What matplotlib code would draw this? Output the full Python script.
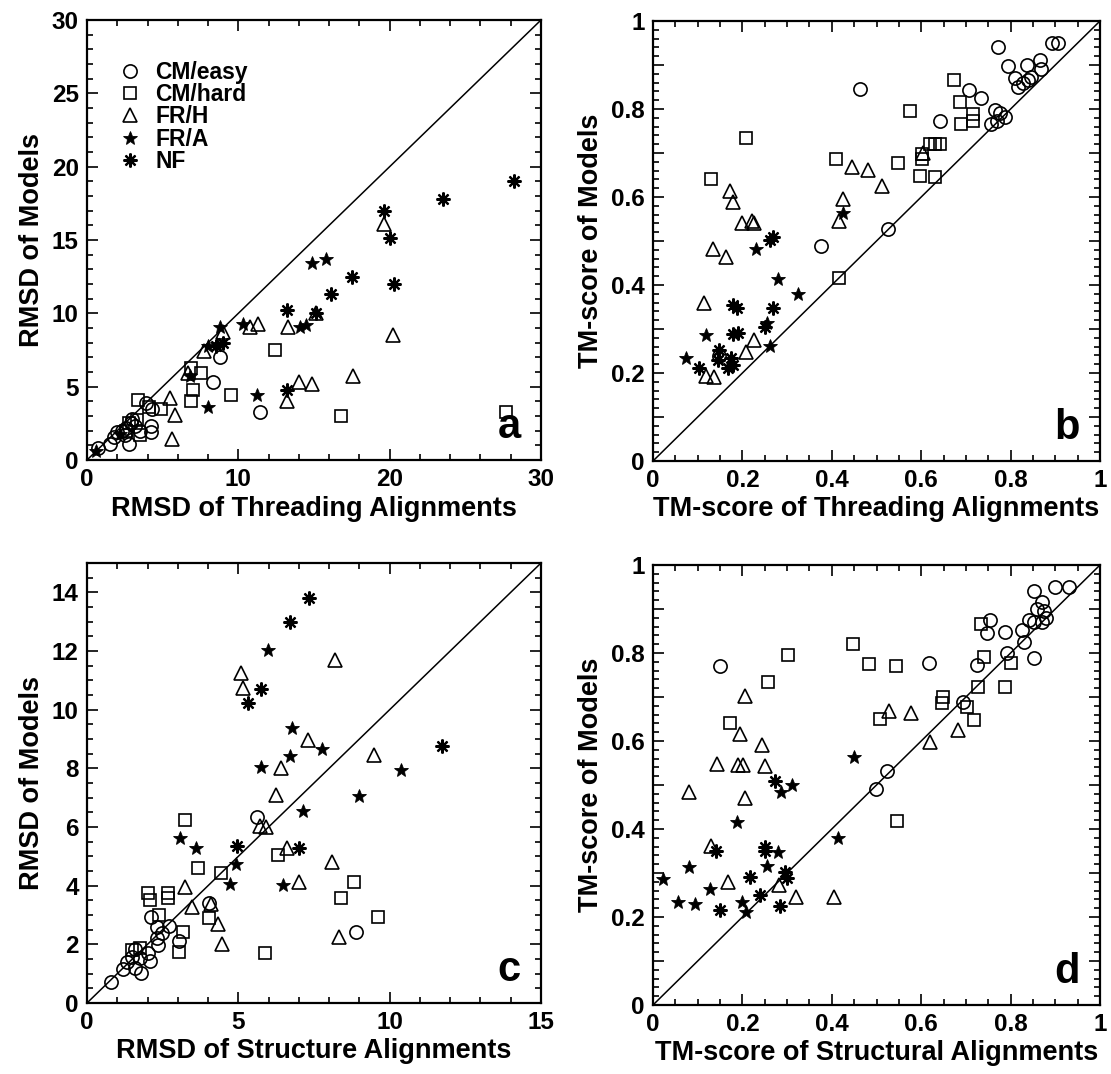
import numpy as np
import matplotlib.pyplot as plt
from matplotlib.ticker import MultipleLocator, FuncFormatter

plt.rcParams['font.family'] = ['Liberation Sans', 'DejaVu Sans']
plt.rcParams['font.weight'] = 'bold'

categories = ['CM/easy', 'CM/hard', 'FR/H', 'FR/A', 'NF']

# ---- panel a: RMSD threading vs RMSD models
a_easy = [(0.75, 0.8), (1.5, 1.1), (2.8, 1.1), (1.8, 1.6), (2.0, 1.9), (2.3, 2.0), (2.6, 2.2),
          (2.9, 2.5), (3.0, 2.8), (3.2, 2.3), (2.5, 1.7), (4.2, 2.3), (4.2, 1.9), (3.9, 3.9),
          (4.3, 3.5), (8.3, 5.3), (8.8, 7.0), (11.4, 3.3), (3.5, 2.0)]
a_hard = [(3.5, 1.7), (3.4, 4.1), (4.9, 3.5), (3.3, 2.7), (2.6, 2.0), (4.1, 3.6), (6.9, 4.0),
          (7.0, 4.8), (6.9, 6.25), (7.5, 5.9), (9.5, 4.4), (12.4, 7.5), (16.8, 3.0), (27.7, 3.25),
          (2.8, 2.5)]
a_frh = [(5.5, 4.2), (5.8, 3.1), (5.6, 1.4), (7.7, 7.4), (9.0, 8.75), (10.8, 9.1), (11.3, 9.3),
         (13.3, 9.1), (15.1, 10.0), (14.0, 5.3), (14.9, 5.2), (13.2, 4.0), (17.6, 5.7),
         (19.65, 16.1), (20.2, 8.5), (6.7, 5.9)]
a_fra = [(0.6, 0.6), (6.8, 5.7), (8.0, 3.6), (8.0, 7.8), (8.8, 9.1), (10.3, 9.3), (11.25, 4.4),
         (14.1, 9.1), (14.5, 9.2), (14.9, 13.4), (15.8, 13.7), (2.2, 1.8), (8.6, 7.9)]
a_nf = [(8.5, 7.8), (9.0, 8.0), (13.2, 10.25), (13.2, 4.8), (16.1, 11.3), (17.5, 12.5),
        (15.1, 10.0), (19.65, 17.0), (20.0, 15.15), (20.3, 12.0), (23.5, 17.8), (28.2, 19.0)]

# ---- panel b: TM-score threading vs TM-score models
b_easy = [(0.892, 0.949), (0.905, 0.95), (0.771, 0.940), (0.794, 0.898), (0.837, 0.901),
          (0.866, 0.911), (0.868, 0.890), (0.809, 0.871), (0.816, 0.850), (0.827, 0.860),
          (0.838, 0.867), (0.846, 0.873), (0.463, 0.846), (0.708, 0.843), (0.734, 0.826),
          (0.765, 0.797), (0.776, 0.792), (0.787, 0.782), (0.756, 0.767), (0.769, 0.773),
          (0.642, 0.773), (0.525, 0.528), (0.376, 0.489), (0.148, 0.239)]
b_hard = [(0.673, 0.865), (0.686, 0.817), (0.574, 0.795), (0.688, 0.767), (0.717, 0.788),
          (0.717, 0.773), (0.620, 0.720), (0.631, 0.720), (0.642, 0.720), (0.602, 0.698),
          (0.602, 0.686), (0.207, 0.734), (0.410, 0.686), (0.547, 0.678), (0.598, 0.648),
          (0.631, 0.645), (0.130, 0.640), (0.415, 0.417)]
b_frh = [(0.605, 0.700), (0.446, 0.668), (0.482, 0.661), (0.513, 0.625), (0.172, 0.614),
         (0.180, 0.588), (0.425, 0.595), (0.416, 0.545), (0.200, 0.542), (0.222, 0.545),
         (0.225, 0.542), (0.135, 0.481), (0.164, 0.464), (0.114, 0.358), (0.225, 0.275),
         (0.208, 0.247), (0.119, 0.194), (0.137, 0.190)]
b_fra = [(0.425, 0.563), (0.230, 0.481), (0.279, 0.414), (0.324, 0.380), (0.119, 0.286),
         (0.262, 0.262), (0.073, 0.233), (0.255, 0.313)]
b_nf = [(0.261, 0.502), (0.180, 0.355), (0.187, 0.347), (0.269, 0.347), (0.250, 0.305),
        (0.178, 0.289), (0.191, 0.290), (0.148, 0.252), (0.146, 0.230), (0.174, 0.233),
        (0.178, 0.218), (0.167, 0.211), (0.103, 0.212), (0.268, 0.510)]

# ---- panel c: RMSD structure alignments vs RMSD models
c_easy = [(0.79, 0.73), (1.2, 1.15), (1.31, 1.39), (1.48, 1.58), (1.59, 1.18), (1.78, 1.03),
          (1.75, 1.52), (2.03, 1.72), (2.08, 1.44), (2.1, 2.94), (2.3, 2.6), (2.47, 2.38),
          (2.72, 2.64), (2.3, 2.2), (2.36, 1.98), (3.04, 2.12), (4.04, 3.42), (5.61, 6.33),
          (8.89, 2.41), (1.6, 1.85)]
c_hard = [(1.48, 1.81), (1.75, 1.86), (2.03, 3.74), (2.08, 3.51), (2.69, 3.74), (2.69, 3.57),
          (2.38, 3.0), (3.16, 2.43), (3.04, 1.75), (3.24, 6.24), (3.66, 4.59), (4.43, 4.42),
          (4.04, 2.89), (6.32, 5.05), (5.88, 1.69), (8.83, 4.14), (8.39, 3.57), (9.6, 2.94)]
c_frh = [(5.09, 11.24), (5.16, 10.75), (8.2, 11.7), (7.29, 8.97), (6.41, 8.0), (6.24, 7.09),
         (5.72, 6.03), (5.9, 5.99), (9.48, 8.46), (6.6, 5.27), (8.1, 4.82), (7.0, 4.14),
         (3.24, 3.97), (3.48, 3.26), (4.1, 3.38), (4.34, 2.69), (4.45, 2.0), (8.34, 2.26)]
c_fra = [(5.99, 12.04), (6.78, 9.37), (7.77, 8.66), (6.71, 8.43), (5.74, 8.04), (7.13, 6.55),
         (10.36, 7.94), (9.0, 7.07), (3.07, 5.64), (3.6, 5.27), (4.92, 4.73), (4.72, 4.05),
         (6.49, 4.02)]
c_nf = [(7.33, 13.8), (6.71, 12.98), (5.75, 10.69), (5.33, 10.24), (11.74, 8.76), (4.94, 5.35),
        (7.0, 5.3)]

# ---- panel d: TM-score structural alignments vs TM-score models
d_easy = [(0.150, 0.771), (0.618, 0.777), (0.523, 0.532), (0.498, 0.490), (0.853, 0.941),
          (0.900, 0.950), (0.930, 0.950), (0.860, 0.900), (0.870, 0.915), (0.875, 0.895),
          (0.842, 0.875), (0.852, 0.871), (0.826, 0.852), (0.829, 0.826), (0.755, 0.875),
          (0.747, 0.846), (0.787, 0.848), (0.725, 0.773), (0.791, 0.799), (0.853, 0.788),
          (0.693, 0.689), (0.870, 0.870), (0.880, 0.880)]
d_hard = [(0.447, 0.820), (0.301, 0.795), (0.484, 0.774), (0.543, 0.771), (0.258, 0.735),
          (0.172, 0.642), (0.508, 0.650), (0.545, 0.418), (0.734, 0.867), (0.741, 0.792),
          (0.800, 0.778), (0.728, 0.723), (0.787, 0.723), (0.648, 0.701), (0.646, 0.687),
          (0.703, 0.678), (0.719, 0.648)]
d_frh = [(0.205, 0.702), (0.528, 0.669), (0.578, 0.663), (0.194, 0.617), (0.244, 0.591),
         (0.620, 0.598), (0.143, 0.548), (0.191, 0.545), (0.202, 0.545), (0.250, 0.543),
         (0.080, 0.483), (0.205, 0.470), (0.130, 0.361), (0.168, 0.280), (0.282, 0.273),
         (0.321, 0.246), (0.404, 0.246), (0.682, 0.625)]
d_fra = [(0.449, 0.564), (0.312, 0.500), (0.286, 0.483), (0.189, 0.417), (0.413, 0.380),
         (0.280, 0.347), (0.081, 0.313), (0.255, 0.317), (0.022, 0.286), (0.128, 0.263),
         (0.056, 0.233), (0.093, 0.229), (0.200, 0.233), (0.209, 0.212)]
d_nf = [(0.272, 0.509), (0.141, 0.350), (0.250, 0.360), (0.250, 0.350), (0.218, 0.290),
        (0.295, 0.303), (0.299, 0.289), (0.240, 0.250), (0.150, 0.217), (0.283, 0.226)]

# marker style per category
STYLES = {
    'CM/easy': dict(marker='o', ms=9.5, mfc='none', mec='black', mew=1.2),
    'CM/hard': dict(marker='s', ms=9, mfc='none', mec='black', mew=1.2),
    'FR/H': dict(marker='^', ms=9.5, mfc='none', mec='black', mew=1.2),
    'FR/A': dict(marker='*', ms=10, mfc='black', mec='black', mew=0.6),
    'NF': dict(marker=(8, 2, 0), ms=10, mfc='black', mec='black', mew=1.6),
}


def tick_fmt(v, pos):
    if abs(v - round(v)) < 1e-9:
        return f'{int(round(v))}'
    return f'{v:g}'


def tm_fmt(v, pos):
    # labels only every 0.2
    if abs(v * 5 - round(v * 5)) > 1e-6:
        return ''
    return tick_fmt(v, pos)


def draw_panel(ax, groups, lim, xlabel, ylabel, letter, xmaj, xmin, ymaj, ymin, yfmt=tick_fmt):
    ax.plot([0, lim], [0, lim], color='black', lw=1.1, zorder=1)
    for name, pts in zip(categories, groups):
        x = [p[0] for p in pts]
        y = [p[1] for p in pts]
        ax.plot(x, y, linestyle='none', label=name, zorder=3, **STYLES[name])
    ax.set_xlim(0, lim)
    ax.set_ylim(0, lim)
    ax.xaxis.set_major_locator(MultipleLocator(xmaj))
    ax.xaxis.set_minor_locator(MultipleLocator(xmin))
    ax.yaxis.set_major_locator(MultipleLocator(ymaj))
    ax.yaxis.set_minor_locator(MultipleLocator(ymin))
    ax.xaxis.set_major_formatter(FuncFormatter(tick_fmt))
    ax.yaxis.set_major_formatter(FuncFormatter(yfmt))
    ax.tick_params(which='both', direction='in', top=True, right=True, labelsize=17.5, width=1.2)
    ax.tick_params(which='major', length=8, pad=6)
    ax.tick_params(which='minor', length=4)
    for lab in ax.get_xticklabels() + ax.get_yticklabels():
        lab.set_fontweight('bold')
    for sp in ax.spines.values():
        sp.set_linewidth(1.6)
    ax.set_xlabel(xlabel, fontsize=19.5, fontweight='bold', labelpad=3)
    ax.set_ylabel(ylabel, fontsize=19.5, fontweight='bold', labelpad=5)
    ax.text(0.955, 0.03, letter, transform=ax.transAxes, ha='right', va='bottom',
            fontsize=30, fontweight='bold')


fig = plt.figure(figsize=(11.11, 10.74), dpi=100)
W, H = 1111, 1074
ax_a = fig.add_axes([87 / W, 1 - 460 / H, 454 / W, 440 / H])
ax_b = fig.add_axes([653 / W, 1 - 461 / H, 447 / W, 440 / H])
ax_c = fig.add_axes([87 / W, 1 - 1003 / H, 454 / W, 440 / H])
ax_d = fig.add_axes([653 / W, 1 - 1005 / H, 447 / W, 440 / H])

draw_panel(ax_a, [a_easy, a_hard, a_frh, a_fra, a_nf], 30,
           'RMSD of Threading Alignments', 'RMSD of Models', 'a', 10, 2, 5, 1)
draw_panel(ax_b, [b_easy, b_hard, b_frh, b_fra, b_nf], 1,
           'TM-score of Threading Alignments', 'TM-score of Models', 'b', 0.2, 0.05, 0.1, 0.02, tm_fmt)
draw_panel(ax_c, [c_easy, c_hard, c_frh, c_fra, c_nf], 15,
           'RMSD of Structure Alignments', 'RMSD of Models', 'c', 5, 1, 2, 0.5)
draw_panel(ax_d, [d_easy, d_hard, d_frh, d_fra, d_nf], 1,
           'TM-score of Structural Alignments', 'TM-score of Models', 'd', 0.2, 0.05, 0.1, 0.02, tm_fmt)

leg = ax_a.legend(loc='upper left', bbox_to_anchor=(0.05, 0.928), frameon=False,
                  prop={'size': 16.5, 'weight': 'bold'}, handletextpad=0.6, labelspacing=-0.03,
                  handlelength=1.0, borderaxespad=0)

fig.savefig('out.png', dpi=100)
